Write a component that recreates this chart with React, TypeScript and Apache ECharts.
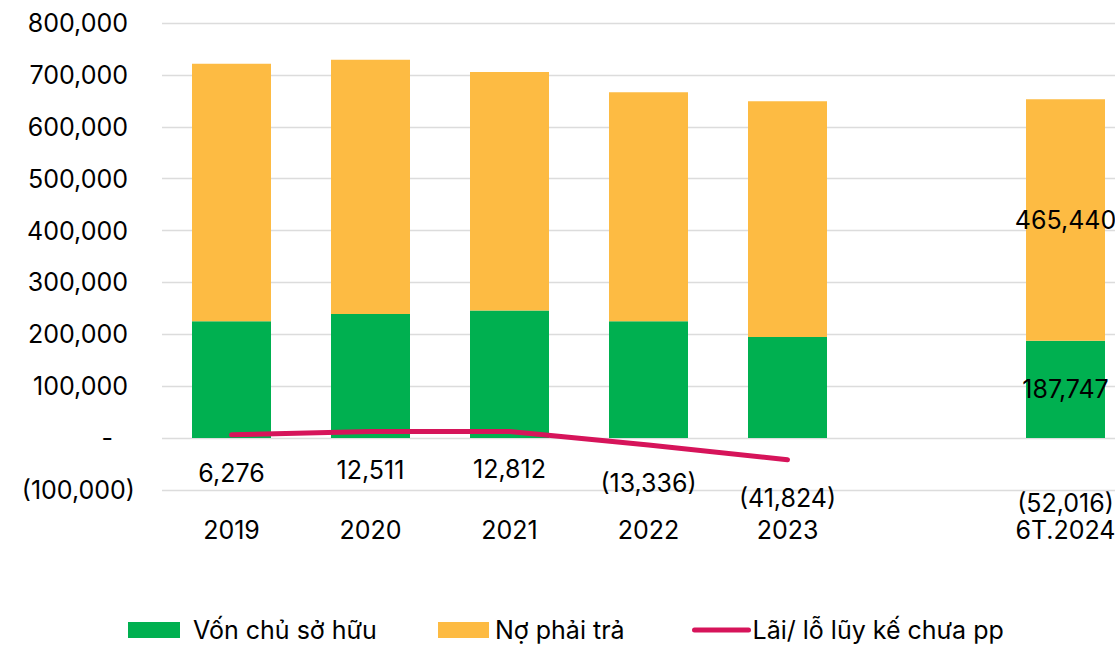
import React, { useEffect, useRef } from "react";
import * as echarts from "echarts";

// Categories (an empty slot separates the yearly figures from the half-year figure)
const categories = ["2019", "2020", "2021", "2022", "2023", "", "6T.2024"];

// Equity (green) and liabilities (orange), stacked
const vonChuSoHuu = [225000, 239000, 246000, 225000, 195000, null, 187747];
const noPhaiTra = [496500, 490000, 459500, 441500, 454000, null, 465440];

// Accumulated undistributed profit / loss
const laiLoLuyKe = [6276, 12511, 12812, -13336, -41824, null, -52016];

// Only the half-year bar carries value labels
const labelledBars = ["6T.2024"];

const seriesNames = ["Vốn chủ sở hữu", "Nợ phải trả", "Lãi/ lỗ lũy kế chưa pp"];

const FONT = "Inter";
const GREEN = "#00B050";
const ORANGE = "#FDBB43";
const CRIMSON = "#D6145A";

const fmtAccounting = (v: number) => {
  if (v === 0) return "-";
  const s = Math.abs(v).toLocaleString("en-US");
  return v < 0 ? `(${s})` : s;
};

const barData = (values: (number | null)[]) =>
  values.map((v, i) => ({
    value: v,
    label: { show: labelledBars.includes(categories[i]) && v != null },
  }));

export default function App() {
  const ref = useRef<HTMLDivElement>(null);

  useEffect(() => {
    if (!ref.current) return;
    const chart = echarts.init(ref.current, undefined, { renderer: "svg" });

    const baseText = { fontFamily: FONT, fontSize: 25, color: "#000" };
    const tightText = { ...baseText, lineHeight: 24 };

    const legendCommon = {
      top: 617,
      padding: 0,
      itemHeight: 16,
      textStyle: { ...baseText, lineHeight: 26 },
      selectedMode: false as const,
    };

    chart.setOption({
      animation: false,
      backgroundColor: "#fff",
      grid: { left: 162, right: 0, top: 23, bottom: 155, containLabel: false },
      xAxis: {
        type: "category",
        data: categories,
        axisLine: { show: false },
        axisTick: { show: false },
        axisLabel: { ...tightText, margin: 28, interval: 0 },
      },
      yAxis: {
        type: "value",
        min: -100000,
        max: 800000,
        interval: 100000,
        axisLine: { show: false },
        axisTick: { show: false },
        splitLine: { lineStyle: { color: "#DCDCDC", width: 1.3 } },
        axisLabel: {
          margin: 27,
          formatter: (v: number) => {
            if (v === 0) return "{z|-}";
            if (v < 0) return `{n|${fmtAccounting(v)}}`;
            return `{p|${fmtAccounting(v)}}`;
          },
          rich: {
            p: { ...baseText, padding: [0, 7, 0, 0] },
            n: { ...baseText },
            z: { ...baseText, padding: [0, 22, 0, 0] },
          },
        },
      },
      legend: [
        {
          ...legendCommon,
          left: 128,
          itemWidth: 52,
          data: [{ name: seriesNames[0], icon: "rect" }],
          textStyle: { ...legendCommon.textStyle, padding: [0, 0, 0, 8] },
        },
        {
          ...legendCommon,
          left: 438,
          itemWidth: 51,
          data: [{ name: seriesNames[1], icon: "rect" }],
          textStyle: { ...legendCommon.textStyle, padding: [0, 0, 0, 1] },
        },
        {
          ...legendCommon,
          left: 692,
          itemWidth: 54,
          data: [seriesNames[2]],
          lineStyle: { width: 5, cap: "round" },
          textStyle: { ...legendCommon.textStyle, padding: [0, 0, 0, -1] },
        },
      ],
      series: [
        {
          name: seriesNames[0],
          type: "bar",
          stack: "total",
          barWidth: 79,
          itemStyle: { color: GREEN },
          label: { position: "inside", ...baseText, formatter: (p: any) => fmtAccounting(p.value) },
          data: barData(vonChuSoHuu),
        },
        {
          name: seriesNames[1],
          type: "bar",
          stack: "total",
          barWidth: 79,
          itemStyle: { color: ORANGE },
          label: { position: "inside", ...baseText, formatter: (p: any) => fmtAccounting(p.value) },
          data: barData(noPhaiTra),
        },
        {
          name: seriesNames[2],
          type: "line",
          z: 5,
          connectNulls: false,
          symbol: "circle",
          symbolSize: 2,
          showSymbol: true,
          itemStyle: { color: "transparent", borderWidth: 0 },
          lineStyle: { color: CRIMSON, width: 5, cap: "round" },
          label: {
            show: true,
            position: "bottom",
            distance: 25,
            ...tightText,
            formatter: (p: any) => fmtAccounting(p.value),
          },
          data: laiLoLuyKe,
        },
      ],
    });

    return () => chart.dispose();
  }, []);

  return (
    <div
      style={{
        position: "absolute",
        left: 0,
        top: 0,
        width: 1115,
        height: 645,
        overflow: "hidden",
        background: "#fff",
      }}
    >
      <div ref={ref} style={{ width: 1135, height: 645 }} />
    </div>
  );
}
